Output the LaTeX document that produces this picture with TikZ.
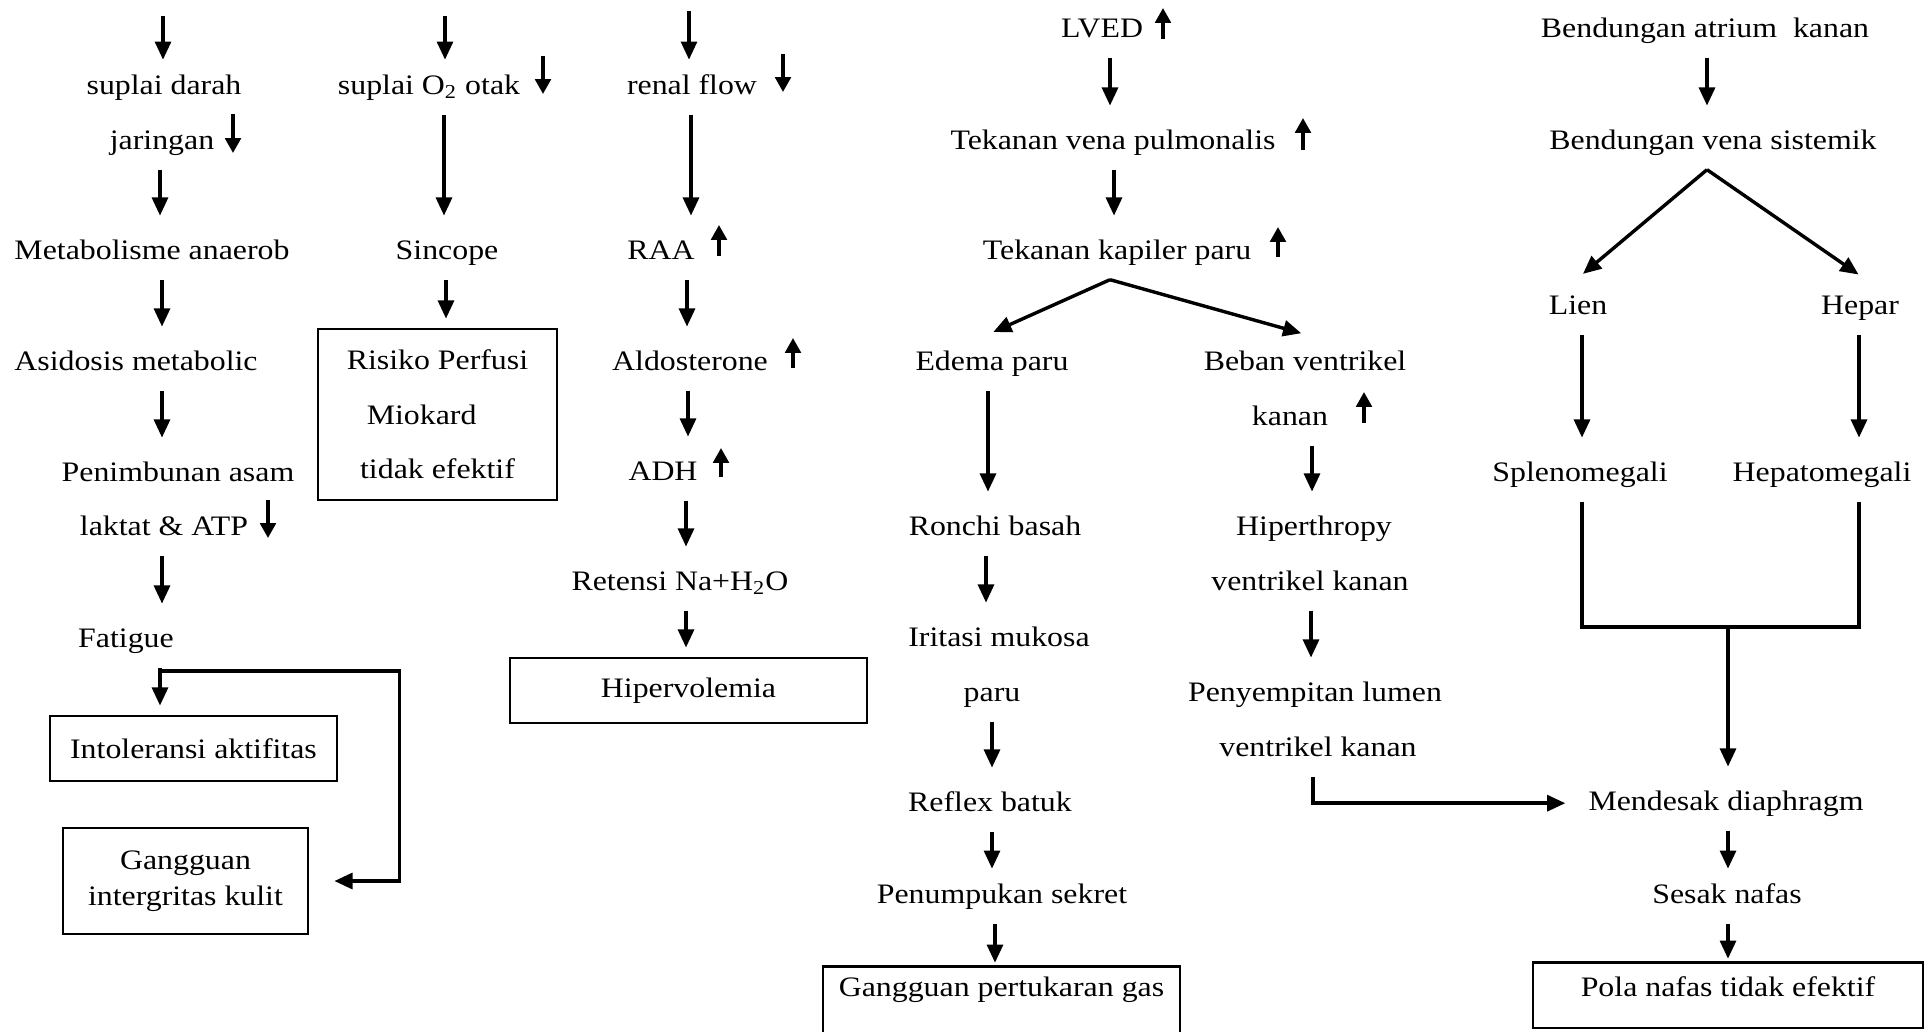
\documentclass[tikz,border=0pt]{standalone}
\usepackage{fontspec}
\setmainfont{Liberation Serif}[FakeStretch=1.13]
\usetikzlibrary{positioning,arrows.meta,calc}
\tikzset{
  flow/.style  ={line width=1.5pt, -{Triangle[length=8pt,width=7pt]}, shorten >=4pt},
  sign/.style  ={line width=1.5pt, -{Triangle[length=6.5pt,width=6.8pt]}},
  link/.style  ={line width=1.5pt},
  txt/.style   ={anchor=base, text height=9pt, text depth=3pt, inner ysep=5.9pt, inner xsep=2pt},
  boxed/.style ={draw, line width=1.2pt, inner sep=3pt, align=center},
}

\begin{document}
\begin{tikzpicture}[x=0.44pt, y=-0.44pt, font=\fontsize{12.4}{15.8}\selectfont]
  \useasboundingbox (0,0) rectangle (1931,1031);
  \clip (0,0) rectangle (1931,1031);

  %--- Column 1: suplai darah ---
  \node[txt] (darah)  at (164,94)  {suplai darah};
  \node[txt] (jar)    at (162,149) {jaringan};
  \node[txt] (meta)   at (152,259) {Metabolisme anaerob};
  \node[txt] (asid)   at (136,370) {Asidosis metabolic};
  \node[txt] (penim)  at (178,481) {Penimbunan asam};
  \node[txt] (laktat) at (164,535) {laktat \& ATP};
  \node[txt] (fat)    at (126,647) {Fatigue};
  \node[boxed, minimum width=126.3pt, minimum height=28.6pt] (intol) at (193.5,748.5) {Intoleransi aktifitas};
  \node[boxed, minimum width=107.8pt, minimum height=46.6pt] (gang) at (185.5,881) {Gangguan\\intergritas kulit};

  \coordinate (in1) at (163,16);
  \draw[flow, shorten >=0pt] (in1) -- (darah.north -| in1);
  \draw[flow] (jar.south -| 160,0) -- (meta.north -| 160,0);
  \draw[flow] (meta.south -| 162,0) -- (asid.north -| 162,0);
  \draw[flow] (asid.south -| 162,0) -- (penim.north -| 162,0);
  \draw[flow] (laktat.south -| 162,0) -- (fat.north -| 162,0);
  \draw[flow] (fat.south -| 160,0) -- (intol.north -| 160,0);
  \coordinate (cabang) at (160,671);
  \draw[flow, shorten >=11pt] (cabang) -| ($(gang.east)+(90,0)$) -- (gang.east);
  \draw[sign] (233,114) -- (233,153);
  \draw[sign] (268,500) -- (268,538);

  %--- Column 2: suplai O2 otak ---
  \node[txt] (o2)   at (429,94)  {suplai O\textsubscript{2} otak};
  \node[txt] (sinc) at (447,259) {Sincope};
  \node[boxed, minimum width=105.2pt, minimum height=75.2pt] (risiko) at (437.5,414.5)
    {Risiko Perfusi\\[8.2pt]Miokard\rule{14pt}{0pt}\\[8.2pt]tidak efektif};

  \coordinate (in2) at (445,16);
  \draw[flow, shorten >=0pt] (in2) -- (o2.north -| in2);
  \draw[flow] (o2.south -| 444,0) -- (sinc.north -| 444,0);
  \draw[flow] (sinc.south -| 446,0) -- (risiko.north -| 446,0);
  \draw[sign] (543,56) -- (543,94);

  %--- Column 3: renal flow ---
  \node[txt] (renal)   at (692,94)  {renal flow};
  \node[txt] (raa)     at (661,259) {RAA};
  \node[txt] (aldo)    at (690,370) {Aldosterone};
  \node[txt] (adh)     at (663,480) {ADH};
  \node[txt] (retensi) at (680,590) {Retensi Na+H\textsubscript{2}O};
  \node[boxed, minimum width=157.1pt, minimum height=28.6pt] (hiper) at (688.5,690.5) {Hipervolemia};

  \coordinate (in3) at (689,11);
  \draw[flow, shorten >=0pt] (in3) -- (renal.north -| in3);
  \draw[flow] (renal.south -| 691,0) -- (raa.north -| 691,0);
  \draw[flow] (raa.south -| 687,0) -- (aldo.north -| 687,0);
  \draw[flow] (aldo.south -| 688,0) -- (adh.north -| 688,0);
  \draw[flow] (adh.south -| 686,0) -- (retensi.north -| 686,0);
  \draw[flow] (retensi.south -| 686,0) -- (hiper.north -| 686,0);
  \draw[sign] (783,54) -- (783,92);
  \draw[sign] (719,256) -- (719,225);
  \draw[sign] (793,368) -- (793,338);
  \draw[sign] (721,477) -- (721,448);

  %--- Column 4: LVED ---
  \node[txt] (lved)    at (1102,37)  {LVED};
  \node[txt] (vena)    at (1113,149) {Tekanan vena pulmonalis};
  \node[txt] (kap)     at (1117,259) {Tekanan kapiler paru};
  \node[txt] (edema)   at (992,370)  {Edema paru};
  \node[txt] (beban)   at (1305,370) {Beban ventrikel};
  \node[txt] (kanan)   at (1290,425) {kanan};
  \node[txt] (ronchi)  at (995,535)  {Ronchi basah};
  \node[txt] (iritasi) at (999,646)  {Iritasi mukosa};
  \node[txt] (paru)    at (992,701)  {paru};
  \node[txt] (reflex)  at (990,811)  {Reflex batuk};
  \node[txt] (numpuk)  at (1002,903) {Penumpukan sekret};
  \node[boxed, anchor=north, minimum width=157.1pt, text height=9pt, text depth=20pt, inner ysep=4.2pt]
    (gas) at (1001.5,965) {Gangguan pertukaran gas};
  \node[txt] (hipt)    at (1314,535) {Hiperthropy};
  \node[txt] (vk1)     at (1310,590) {ventrikel kanan};
  \node[txt] (peny)    at (1315,701) {Penyempitan lumen};
  \node[txt] (vk2)     at (1318,756) {ventrikel kanan};

  \draw[flow] (lved.south -| 1110,0) -- (vena.north -| 1110,0);
  \draw[flow] (vena.south -| 1114,0) -- (kap.north -| 1114,0);
  \coordinate (pisah) at (kap.south -| 1110,0);
  \draw[flow] (pisah) -- (edema.north -| 985,0);
  \draw[flow] (pisah) -- (beban.north -| 1310,0);
  \draw[flow] (edema.south -| 988,0) -- (ronchi.north -| 988,0);
  \draw[flow] (ronchi.south -| 986,0) -- (iritasi.north -| 986,0);
  \draw[flow] (paru.south -| 992,0) -- (reflex.north -| 992,0);
  \draw[flow, shorten >=0pt] (reflex.south -| 992,0) -- (numpuk.north -| 992,0);
  \draw[flow, shorten >=1pt] (numpuk.south -| 995,0) -- (gas.north -| 995,0);
  \draw[flow] (kanan.south -| 1312,0) -- (hipt.north -| 1312,0);
  \draw[flow] (vk1.south -| 1311,0) -- (peny.north -| 1311,0);
  \draw[sign] (1163,39) -- (1163,8);
  \draw[sign] (1303,150) -- (1303,118);
  \draw[sign] (1278,257) -- (1278,227);
  \draw[sign] (1364,423) -- (1364,392);

  %--- Column 5: Bendungan atrium kanan ---
  \node[txt] (atrium) at (1705,37)  {Bendungan atrium\ \ kanan};
  \node[txt] (sist)   at (1713,149) {Bendungan vena sistemik};
  \node[txt] (lien)   at (1578,314) {Lien};
  \node[txt] (hepar)  at (1860,314) {Hepar};
  \node[txt] (splen)  at (1580,481) {Splenomegali};
  \node[txt] (hepato) at (1822,481) {Hepatomegali};
  \node[txt] (desak)  at (1726,810) {Mendesak diaphragm};
  \node[txt] (sesak)  at (1727,903) {Sesak nafas};
  \node[boxed, anchor=north, minimum width=171.6pt, text height=9pt, text depth=8.1pt, inner ysep=5.9pt]
    (pola) at (1728,961) {Pola nafas tidak efektif};

  \draw[flow] (atrium.south -| 1707,0) -- (sist.north -| 1707,0);
  \coordinate (bagi) at (sist.south -| 1707,0);
  \draw[flow] (bagi) -- (lien.north -| 1576,0);
  \draw[flow] (bagi) -- (hepar.north -| 1866,0);
  \draw[flow] (lien.south -| 1582,0) -- (splen.north -| 1582,0);
  \draw[flow] (hepar.south -| 1859,0) -- (hepato.north -| 1859,0);
  \coordinate (gabung) at (1728,627);
  \draw[link] (splen.south -| 1582,0) |- (gabung) -| (hepato.south -| 1859,0);
  \draw[flow] (gabung) -- (desak.north -| gabung);
  \draw[flow, shorten >=0pt] (desak.south -| 1728,0) -- (sesak.north -| 1728,0);
  \draw[flow, shorten >=1pt] (sesak.south -| 1728,0) -- (pola.north -| 1728,0);

  % ventrikel kanan pushes the diaphragm
  \draw[flow, shorten >=8pt] (vk2.south -| 1313,0) |- (desak.west);

\end{tikzpicture}
\end{document}
